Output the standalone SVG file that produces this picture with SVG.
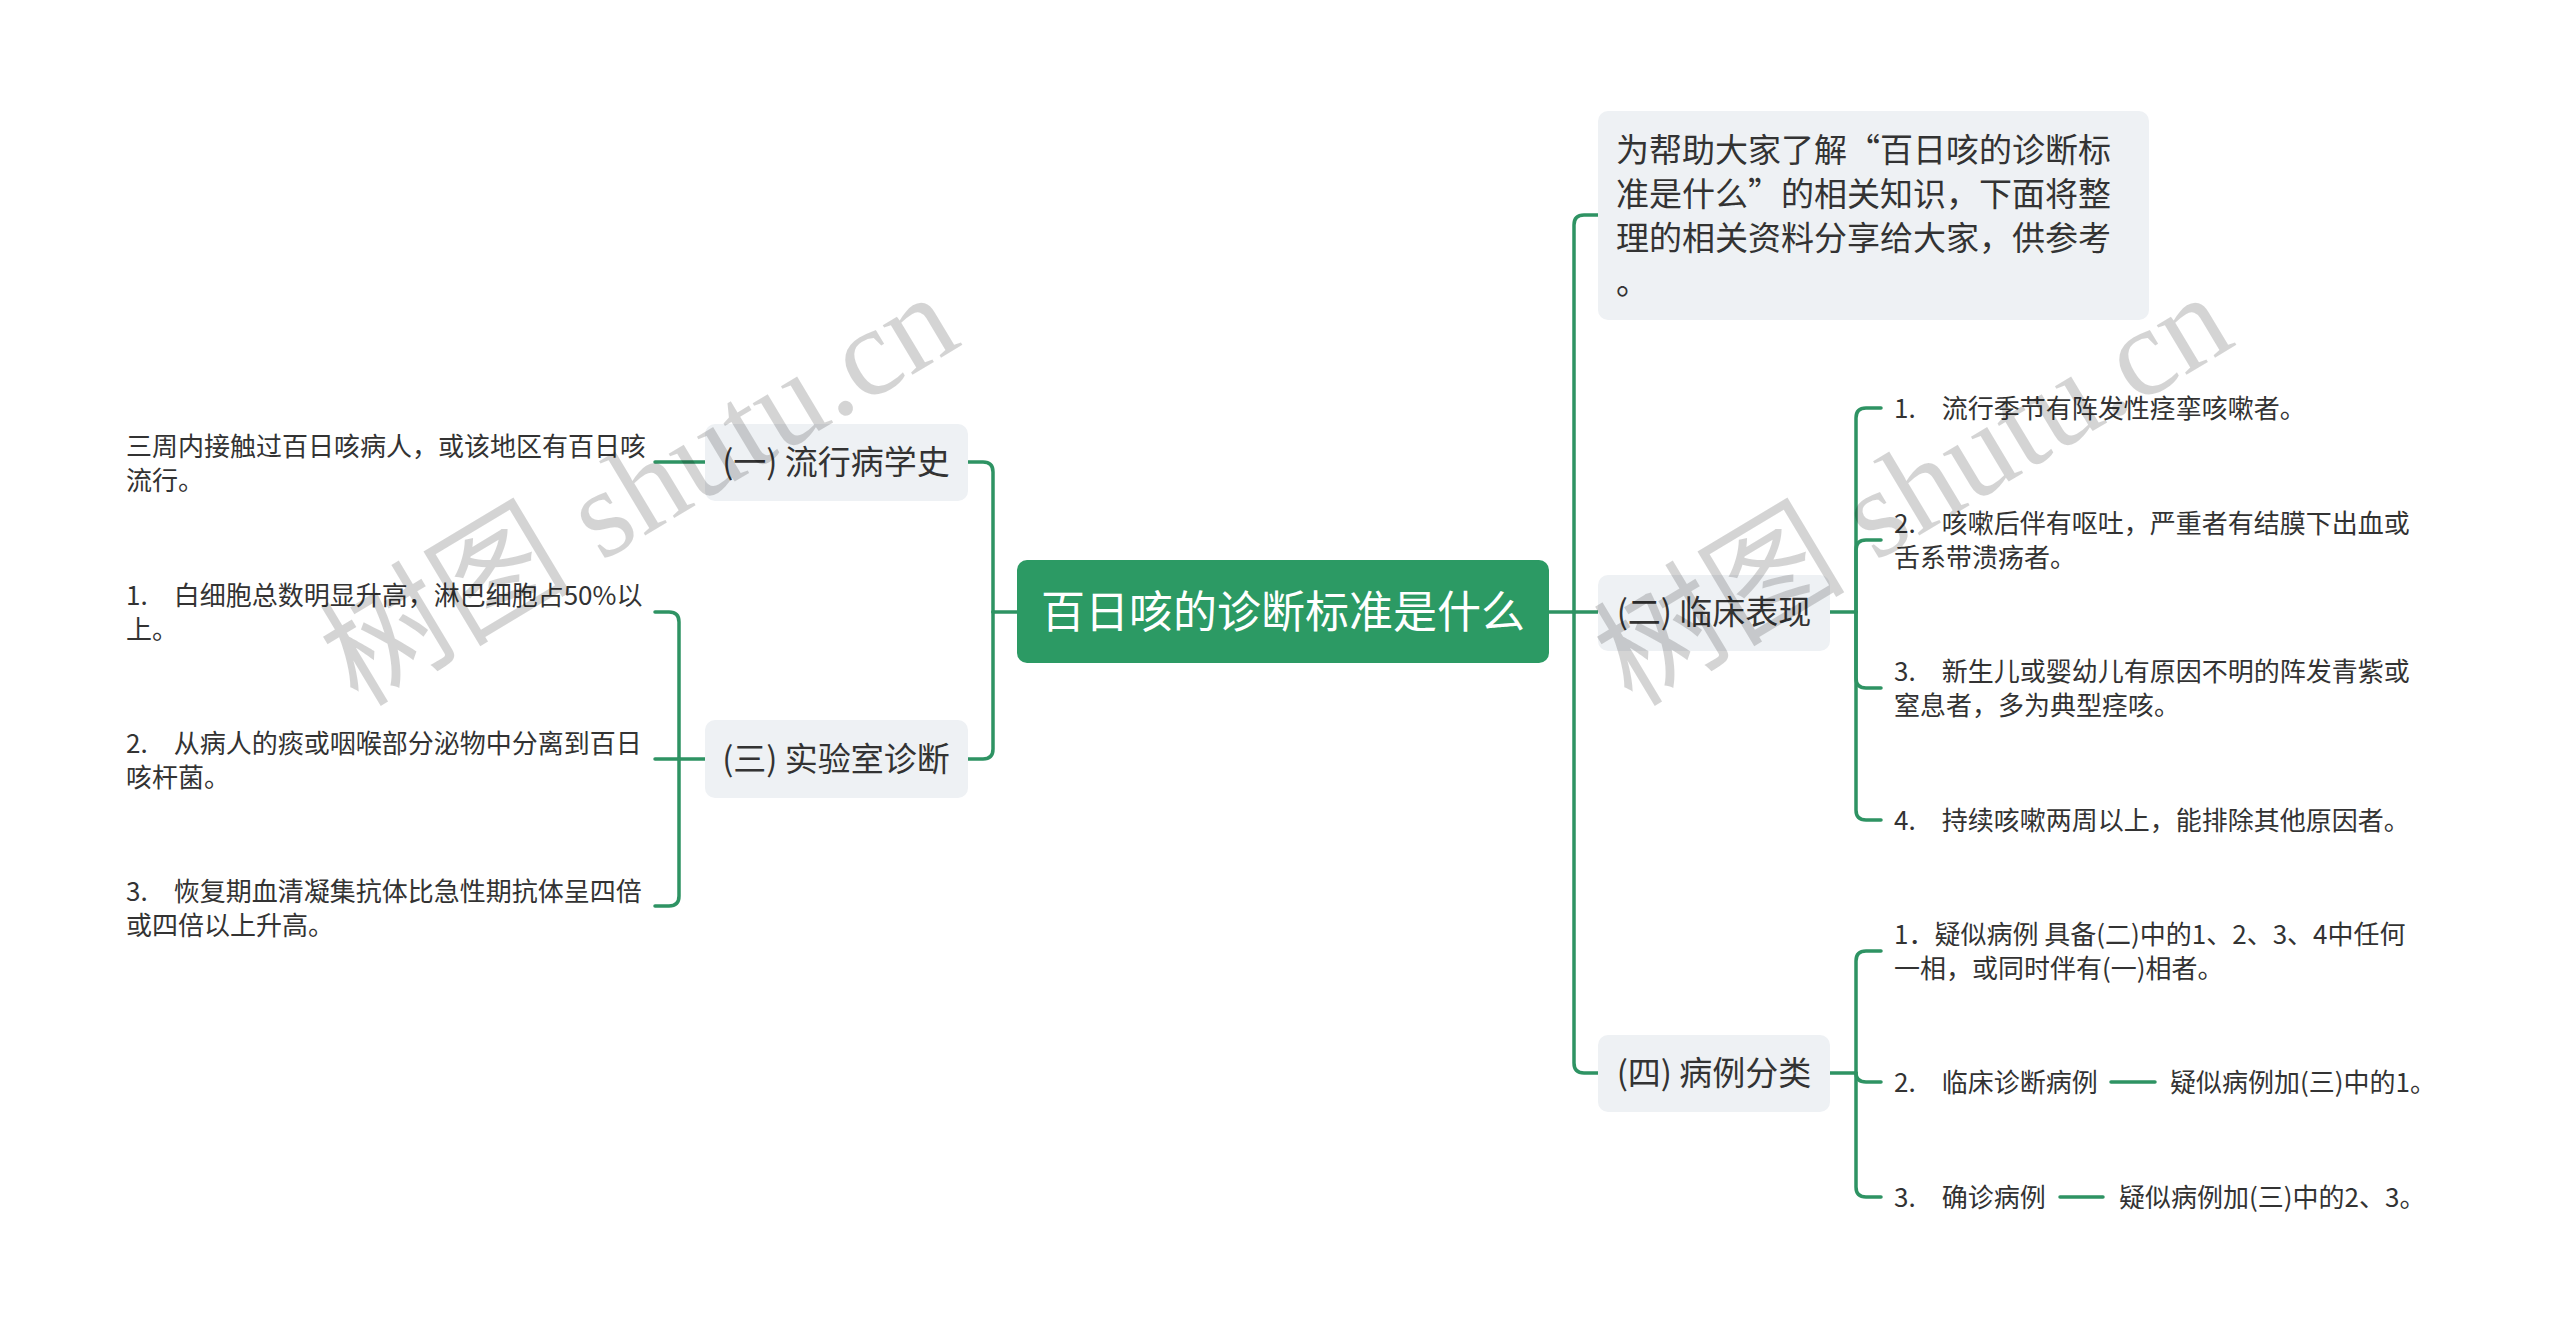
<svg xmlns="http://www.w3.org/2000/svg" width="2560" height="1337" viewBox="0 0 2560 1337">
<style>
text{font-family:"Noto Sans CJK SC","Noto Sans",sans-serif;fill:#333333}
.leaf{font-size:26px}
.l1{font-size:33px}
.root{font-size:44px;fill:#ffffff}
.box{fill:#eef1f4}
.conn path{fill:none;stroke:#2e9363;stroke-width:3.5;stroke-linecap:round}
.wm{font-family:"Liberation Serif","Noto Sans CJK SC",serif;font-size:126px;fill:#000;fill-opacity:0.17}
</style>
<rect width="2560" height="1337" fill="#ffffff"/>
<g id="connectors" class="conn">
<path d="M1017 612 H993"/>
<path d="M993 612 V472 Q993 462 983 462 H968"/>
<path d="M993 612 V749 Q993 759 983 759 H968"/>
<path d="M705 462 H655"/>
<path d="M705 759 H679"/>
<path d="M679 759 V622 Q679 612 669 612 H655"/>
<path d="M679 759 H655"/>
<path d="M679 759 V896 Q679 906 669 906 H655"/>
<path d="M1549 612 H1574"/>
<path d="M1574 612 V225 Q1574 215 1584 215 H1598"/>
<path d="M1574 612 H1598"/>
<path d="M1574 612 V1063 Q1574 1073 1584 1073 H1598"/>
<path d="M1830 612 H1856"/>
<path d="M1856 612 V418 Q1856 408 1866 408 H1881"/>
<path d="M1856 612 V550 Q1856 540 1866 540 H1881"/>
<path d="M1856 612 V678 Q1856 688 1866 688 H1881"/>
<path d="M1856 612 V810 Q1856 820 1866 820 H1881"/>
<path d="M1830 1073 H1856"/>
<path d="M1856 1073 V961 Q1856 951 1866 951 H1881"/>
<path d="M1856 1073 Q1856 1082 1866 1082 H1881"/>
<path d="M1856 1073 V1187 Q1856 1197 1866 1197 H1881"/>
<path d="M2111 1082 H2155"/>
<path d="M2060 1197 H2103"/>
</g>
<g id="root">
<rect x="1017" y="560" width="532" height="103" rx="10" fill="#2c9a64"/>
<text class="root" x="1283" y="628" text-anchor="middle">百日咳的诊断标准是什么</text>
</g>
<g id="n1">
<rect class="box" x="705" y="424" width="263" height="77" rx="10"/>
<text class="l1" x="836" y="474" text-anchor="middle">(一) 流行病学史</text>
</g>
<g id="n3">
<rect class="box" x="705" y="720" width="263" height="78" rx="10"/>
<text class="l1" x="836" y="771" text-anchor="middle">(三) 实验室诊断</text>
</g>
<g id="intro">
<rect class="box" x="1598" y="111" width="551" height="209" rx="10"/>
<text class="l1" x="1616" y="162">为帮助大家了解“百日咳的诊断标</text>
<text class="l1" x="1616" y="206">准是什么”的相关知识，下面将整</text>
<text class="l1" x="1616" y="250">理的相关资料分享给大家，供参考</text>
<text class="l1" x="1616" y="294">。</text>
</g>
<g id="n2">
<rect class="box" x="1598" y="575" width="232" height="76" rx="10"/>
<text class="l1" x="1714" y="624" text-anchor="middle">(二) 临床表现</text>
</g>
<g id="n4">
<rect class="box" x="1598" y="1035" width="232" height="77" rx="10"/>
<text class="l1" x="1714" y="1085" text-anchor="middle">(四) 病例分类</text>
</g>
<g id="leaf-1-1">
<text class="leaf" x="126" y="456">三周内接触过百日咳病人，或该地区有百日咳</text>
<text class="leaf" x="126" y="490">流行。</text>
</g>
<g id="leaf-3-1">
<text class="leaf" x="126" y="605">1.　白细胞总数明显升高，淋巴细胞占50%以</text>
<text class="leaf" x="126" y="639">上。</text>
</g>
<g id="leaf-3-2">
<text class="leaf" x="126" y="753">2.　从病人的痰或咽喉部分泌物中分离到百日</text>
<text class="leaf" x="126" y="787">咳杆菌。</text>
</g>
<g id="leaf-3-3">
<text class="leaf" x="126" y="901">3.　恢复期血清凝集抗体比急性期抗体呈四倍</text>
<text class="leaf" x="126" y="935">或四倍以上升高。</text>
</g>
<g id="leaf-2-1">
<text class="leaf" x="1894" y="418">1.　流行季节有阵发性痉挛咳嗽者。</text>
</g>
<g id="leaf-2-2">
<text class="leaf" x="1894" y="533">2.　咳嗽后伴有呕吐，严重者有结膜下出血或</text>
<text class="leaf" x="1894" y="567">舌系带溃疡者。</text>
</g>
<g id="leaf-2-3">
<text class="leaf" x="1894" y="681">3.　新生儿或婴幼儿有原因不明的阵发青紫或</text>
<text class="leaf" x="1894" y="715">窒息者，多为典型痉咳。</text>
</g>
<g id="leaf-2-4">
<text class="leaf" x="1894" y="830">4.　持续咳嗽两周以上，能排除其他原因者。</text>
</g>
<g id="leaf-4-1">
<text class="leaf" x="1894" y="944">1．疑似病例 具备(二)中的1、2、3、4中任何</text>
<text class="leaf" x="1894" y="978">一相，或同时伴有(一)相者。</text>
</g>
<g id="leaf-4-2">
<text class="leaf" x="1894" y="1092">2.　临床诊断病例</text>
<text class="leaf" x="2170" y="1092">疑似病例加(三)中的1。</text>
</g>
<g id="leaf-4-3">
<text class="leaf" x="1894" y="1207">3.　确诊病例</text>
<text class="leaf" x="2119" y="1207">疑似病例加(三)中的2、3。</text>
</g>
<g id="watermarks">
<text class="wm" transform="translate(358 708) rotate(-31)">树图 shutu.cn</text>
<text class="wm" transform="translate(1632 708) rotate(-31)">树图 shutu.cn</text>
</g>
</svg>
